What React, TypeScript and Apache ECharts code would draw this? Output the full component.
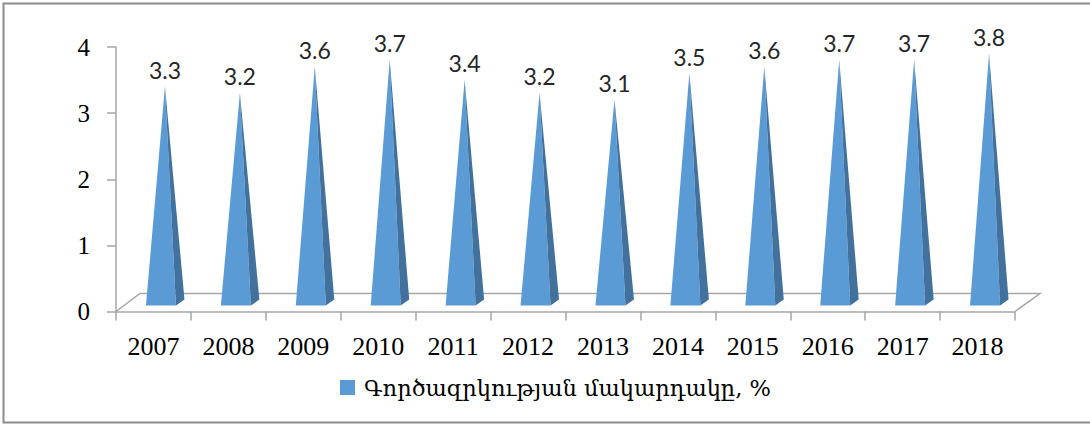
import React, { useEffect, useRef } from 'react';
import * as echarts from 'echarts';

const years = ['2007', '2008', '2009', '2010', '2011', '2012', '2013', '2014', '2015', '2016', '2017', '2018'];
const rates = [3.3, 3.2, 3.6, 3.7, 3.4, 3.2, 3.1, 3.5, 3.6, 3.7, 3.7, 3.8];
const yMin = 0;
const yMax = 4;
const yStep = 1;
const seriesName = 'Գործազրկության մակարդակը, %';

export default function App() {
  const ref = useRef<HTMLDivElement>(null);
  useEffect(() => {
    document.body.style.margin = '0';
    const chart = echarts.init(ref.current!, null, { renderer: 'svg' });
    const axisGray = '#a6a6a6';
    chart.setOption({
      animation: false,
      backgroundColor: '#ffffff',
      graphic: [
        {
          type: 'rect',
          shape: { x: 3.5, y: 3.5, width: 1100, height: 419 },
          style: { fill: 'none', stroke: '#8c8c8c', lineWidth: 2 },
          z: 0,
        },
      ],
      grid: { left: 116, right: 75, top: 47, bottom: 113.5 },
      legend: {
        data: [seriesName],
        left: 335,
        top: 371,
        itemWidth: 15,
        itemHeight: 15,
        icon: 'rect',
        textStyle: {
          fontFamily: 'DejaVu Serif',
          fontSize: 22.5,
          color: '#000',
          padding: [0, 0, 0, 4],
        },
      },
      xAxis: {
        type: 'category',
        data: years,
        boundaryGap: true,
        axisLine: { show: true, lineStyle: { color: axisGray, width: 1.5 } },
        axisTick: { show: true, length: 9, alignWithLabel: false, lineStyle: { color: axisGray, width: 1.5 } },
        axisLabel: {
          interval: 0,
          margin: 22,
          fontFamily: 'Liberation Serif',
          fontSize: 26,
          color: '#000',
        },
        splitLine: { show: false },
      },
      yAxis: {
        type: 'value',
        min: yMin,
        max: yMax,
        interval: yStep,
        axisLine: { show: true, lineStyle: { color: axisGray, width: 1.5 } },
        axisTick: { show: true, length: 9, lineStyle: { color: axisGray, width: 1.5 } },
        axisLabel: {
          margin: 26,
          fontFamily: 'Liberation Serif',
          fontSize: 25,
          color: '#000',
        },
        splitLine: { show: false },
      },
      series: [
        {
          type: 'custom',
          name: 'floor',
          z: 1,
          silent: true,
          data: [[0, 0]],
          renderItem: (params: any, api: any) => {
            const cs = params.coordSys;
            const x0 = cs.x;
            const x1 = cs.x + cs.width;
            const yb = cs.y + cs.height;
            return {
              type: 'polyline',
              shape: {
                points: [
                  [x0, yb],
                  [x0 + 24, yb - 18],
                  [x1 + 25, yb - 18],
                  [x1, yb],
                ],
              },
              style: { fill: 'none', stroke: axisGray, lineWidth: 1.5 },
            };
          },
        },
        {
          type: 'custom',
          name: seriesName,
          z: 2,
          itemStyle: { color: '#5b9bd5' },
          data: rates.map((v, i) => [i, v]),
          renderItem: (params: any, api: any) => {
            const i = api.value(0);
            const v = api.value(1);
            const top = api.coord([i, v]);
            const base = api.coord([i, 0]);
            const cx = base[0];
            const y0 = base[1];
            const fl = [cx - 7.5, y0 - 6];
            const fr = [cx + 22.5, y0 - 6];
            const br = [cx + 31, y0 - 12];
            const apex = [cx + 11.5, top[1] - 7];
            return {
              type: 'group',
              children: [
                { type: 'polygon', shape: { points: [fl, fr, apex] }, style: { fill: '#5b9bd5' } },
                { type: 'polygon', shape: { points: [fr, br, apex] }, style: { fill: '#41719c' } },
                {
                  type: 'text',
                  x: apex[0],
                  y: apex[1] - 5,
                  style: {
                    text: String(v),
                    align: 'center',
                    verticalAlign: 'bottom',
                    fontFamily: 'Lato',
                    fontSize: 23,
                    fill: '#262626',
                  },
                },
              ],
            };
          },
        },
      ],
    });
    return () => chart.dispose();
  }, []);
  return <div ref={ref} style={{ position: 'absolute', left: 0, top: 0, width: 1090, height: 425 }} />;
}
